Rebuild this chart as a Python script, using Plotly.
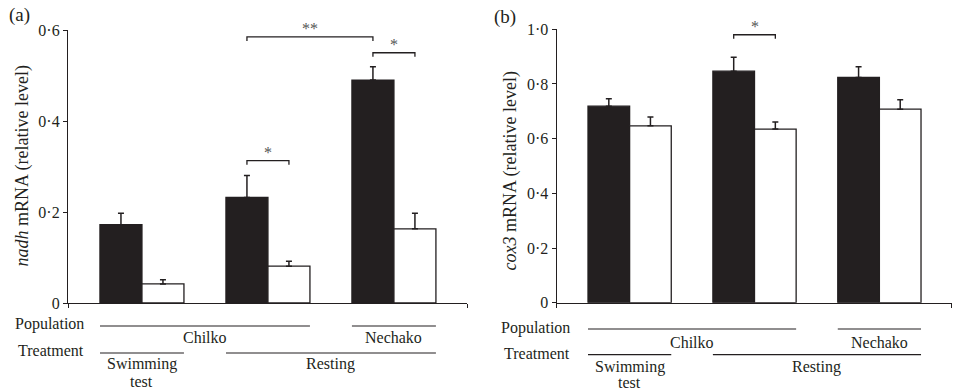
import plotly.graph_objects as go

# ---------------- data ----------------
groups = ["Chilko swimming test", "Chilko resting", "Nechako resting"]
series_names = ["dark", "white"]

nadh_dark = [0.172, 0.232, 0.490]
nadh_dark_err = [0.025, 0.048, 0.029]
nadh_white = [0.042, 0.081, 0.163]
nadh_white_err = [0.009, 0.011, 0.034]

cox3_dark = [0.719, 0.847, 0.824]
cox3_dark_err = [0.027, 0.051, 0.039]
cox3_white = [0.647, 0.635, 0.708]
cox3_white_err = [0.032, 0.026, 0.034]

nadh_ticks = [0, 0.2, 0.4, 0.6]
nadh_ticktext = ["0", "0·2", "0·4", "0·6"]
cox3_ticks = [0, 0.2, 0.4, 0.6, 0.8, 1.0]
cox3_ticktext = ["0", "0·2", "0·4", "0·6", "0·8", "1·0"]

# brackets: (group a, bar a, group b, bar b, level, label)  bar 0=dark, 1=white
nadh_brackets = [(1, 0, 2, 0, 0.585, "**"), (2, 0, 2, 1, 0.550, "*"), (1, 0, 1, 1, 0.313, "*")]
cox3_brackets = [(1, 0, 1, 1, 0.980, "*")]

DARK = "#231f20"
FONT = "Liberation Serif, Times New Roman, serif"
W, H = 954, 391

fig = go.Figure()
x = [0, 1, 2]


def add_bars(xa, ya, dark, dark_err, white, white_err):
    fig.add_trace(go.Bar(x=x, y=dark, xaxis=xa, yaxis=ya, marker=dict(color=DARK, line=dict(color=DARK, width=1.3)),
                         error_y=dict(type="data", symmetric=False, array=dark_err, arrayminus=[0, 0, 0],
                                      color=DARK, thickness=1.5, width=3), showlegend=False, offsetgroup="d"))
    fig.add_trace(go.Bar(x=x, y=white, xaxis=xa, yaxis=ya, marker=dict(color="white", line=dict(color=DARK, width=1.3)),
                         error_y=dict(type="data", symmetric=False, array=white_err, arrayminus=[0, 0, 0],
                                      color=DARK, thickness=1.5, width=3), showlegend=False, offsetgroup="w"))


add_bars("x", "y", nadh_dark, nadh_dark_err, nadh_white, nadh_white_err)
add_bars("x2", "y2", cox3_dark, cox3_dark_err, cox3_white, cox3_white_err)

shapes = []
annotations = []


def bar_center(g, b):
    return g + (-1 / 6 if b == 0 else 1 / 6)


def add_brackets(brs, xr, yr, tick):
    for ga, ba, gb, bb, lev, lab in brs:
        x0, x1 = bar_center(ga, ba), bar_center(gb, bb)
        shapes.append(dict(type="path", xref=xr, yref=yr,
                           path=f"M {x0} {lev - tick} L {x0} {lev} L {x1} {lev} L {x1} {lev - tick}",
                           line=dict(color=DARK, width=1.3)))
        annotations.append(dict(x=(x0 + x1) / 2, y=lev, xref=xr, yref=yr, text=lab, showarrow=False,
                                font=dict(family=FONT, size=16, color="#555555"), yanchor="bottom", yshift=-2))


add_brackets(nadh_brackets, "x", "y", 0.009)
add_brackets(cox3_brackets, "x2", "y2", 0.015)


def py(px):
    return 1 - px / H


def px_x(px):
    return px / W


def add_bottom(xr, ylines, ytexts, labx):
    pop_y, trt_y = ylines
    shapes.append(dict(type="line", xref=xr, yref="paper", x0=-1 / 3, x1=1 + 1 / 3, y0=py(pop_y), y1=py(pop_y),
                       line=dict(color=DARK, width=1.2)))
    shapes.append(dict(type="line", xref=xr, yref="paper", x0=2 - 1 / 3, x1=2 + 1 / 3, y0=py(pop_y), y1=py(pop_y),
                       line=dict(color=DARK, width=1.2)))
    shapes.append(dict(type="line", xref=xr, yref="paper", x0=-1 / 3, x1=1 / 3, y0=py(trt_y), y1=py(trt_y),
                       line=dict(color=DARK, width=1.2)))
    shapes.append(dict(type="line", xref=xr, yref="paper", x0=1 - 1 / 3, x1=2 + 1 / 3, y0=py(trt_y), y1=py(trt_y),
                       line=dict(color=DARK, width=1.2)))
    t_pop, t_chil, t_trt, t_swim, t_test = ytexts
    f = dict(family=FONT, size=16, color=DARK)
    annotations.extend([
        dict(x=px_x(labx), y=py(t_pop), xref="paper", yref="paper", text="Population", showarrow=False,
             xanchor="right", yanchor="middle", font=f),
        dict(x=px_x(labx), y=py(t_trt), xref="paper", yref="paper", text="Treatment", showarrow=False,
             xanchor="right", yanchor="middle", font=f),
        dict(x=0.5, y=py(t_chil), xref=xr, yref="paper", text="Chilko", showarrow=False, yanchor="middle", font=f),
        dict(x=2, y=py(t_chil), xref=xr, yref="paper", text="Nechako", showarrow=False, yanchor="middle", font=f),
        dict(x=0, y=py(t_swim), xref=xr, yref="paper", text="Swimming", showarrow=False, yanchor="middle", font=f),
        dict(x=0, y=py(t_test), xref=xr, yref="paper", text="test", showarrow=False, yanchor="middle", font=f),
        dict(x=1.5, y=py(t_swim), xref=xr, yref="paper", text="Resting", showarrow=False, yanchor="middle", font=f),
    ])


add_bottom("x", (326, 353), (324, 337, 350, 364, 381), 86)
add_bottom("x2", (329, 354.7), (327.7, 342, 353, 367, 382), 572)

annotations.extend([
    dict(x=px_x(22), y=py(166.5), xref="paper", yref="paper", text="<i>nadh</i> mRNA (relative level)",
         textangle=-90, showarrow=False, xanchor="center", yanchor="middle",
         font=dict(family=FONT, size=18, color=DARK)),
    dict(x=px_x(510), y=py(171.5), xref="paper", yref="paper", text="<i>cox3</i> mRNA (relative level)",
         textangle=-90, showarrow=False, xanchor="center", yanchor="middle",
         font=dict(family=FONT, size=18, color=DARK)),
    dict(x=px_x(19), y=py(15), xref="paper", yref="paper", text="(a)", showarrow=False,
         xanchor="center", yanchor="middle", font=dict(family=FONT, size=19, color=DARK)),
    dict(x=px_x(505), y=py(17), xref="paper", yref="paper", text="(b)", showarrow=False,
         xanchor="center", yanchor="middle", font=dict(family=FONT, size=19, color=DARK)),
])

xa_range = [-0.587, 2.58]
xb_range = [-0.584, 2.579]
common_x = dict(showline=True, linecolor=DARK, linewidth=1.3, ticks="outside", ticklen=4, tickcolor=DARK,
                showticklabels=False, showgrid=False, zeroline=False, automargin=False)
common_y = dict(showline=True, linecolor=DARK, linewidth=1.3, ticks="outside", ticklen=4, tickcolor=DARK,
                showgrid=False, zeroline=False, automargin=False,
                tickfont=dict(family=FONT, size=16, color=DARK))

fig.update_layout(
    template="none",
    width=W, height=H, margin=dict(l=0, r=0, t=0, b=0, autoexpand=False),
    paper_bgcolor="white", plot_bgcolor="white",
    barmode="group", bargap=1 / 3, bargroupgap=0,
    xaxis=dict(domain=[68 / W, 467 / W], range=xa_range, tickvals=xa_range, anchor="y", **common_x),
    yaxis=dict(domain=[py(303), py(30)], range=[0, 0.6], tickvals=nadh_ticks, ticktext=nadh_ticktext,
               anchor="x", **common_y),
    xaxis2=dict(domain=[556.7 / W, 951.7 / W], range=xb_range, tickvals=xb_range, anchor="y2", **common_x),
    yaxis2=dict(domain=[py(302.7), py(29.3)], range=[0, 1.0], tickvals=cox3_ticks, ticktext=cox3_ticktext,
                anchor="x2", **common_y),
    shapes=shapes, annotations=annotations,
)

fig.write_html("out.html", config={"displayModeBar": False},
               post_script="document.body.style.margin='0px';document.body.style.overflow='hidden';")
